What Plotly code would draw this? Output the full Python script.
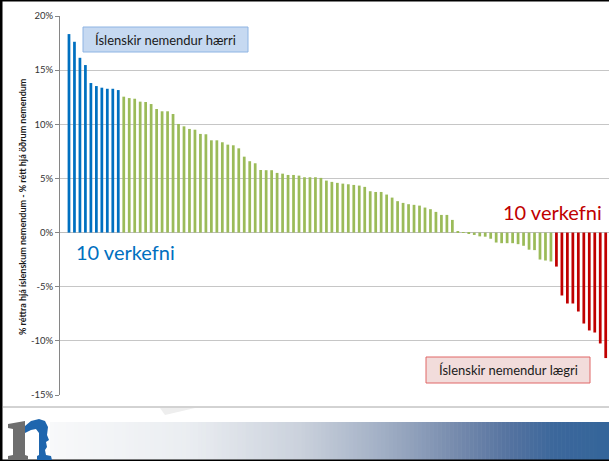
import plotly.graph_objects as go

# ---------------- data (percentage-point differences) ----------------
top10 = [18.33, 17.62, 16.14, 15.47, 13.81, 13.53, 13.38, 13.28, 13.28, 13.16]
middle = [12.55, 12.42, 12.36, 12.09, 12.06, 11.87,
          11.41, 11.20, 11.20, 10.95, 10.03, 9.81, 9.57, 9.50, 9.11, 9.08, 8.52, 8.52,
          8.34, 8.12, 8.06, 7.78, 7.01,
          6.59, 6.40, 5.78, 5.76, 5.76, 5.51, 5.44, 5.32, 5.32, 5.26, 5.11, 5.11, 5.11,
          5.05, 4.80, 4.68,
          4.59, 4.52, 4.46, 4.40, 4.34, 4.22, 3.82, 3.75, 3.75, 3.51, 3.23, 2.90, 2.74,
          2.62, 2.56, 2.49, 2.31,
          2.16, 1.91, 1.63, 1.63, 1.17,
          0.06, -0.03, -0.12, -0.22, -0.35, -0.38, -0.57, -0.92, -0.98, -0.98, -0.98,
          -1.07, -1.22, -1.58, -1.62, -2.49, -2.58, -2.67]
bottom10 = [-3.14, -5.81, -6.55, -6.55, -7.29, -8.40, -9.04, -9.23, -10.24, -11.59]

y_ticks = [-15, -10, -5, 0, 5, 10, 15, 20]
y_title = "% réttra hjá íslenskum nemendum - % rétt hjá öðrum nemendum"
label_high = "Íslenskir nemendur hærri"
label_low = "Íslenskir nemendur lægri"
label_count = "10 verkefni"

n_top, n_mid, n_bot = len(top10), len(middle), len(bottom10)
x_top = list(range(0, n_top))
x_mid = list(range(n_top, n_top + n_mid))
x_bot = list(range(n_top + n_mid, n_top + n_mid + n_bot))

BLUE = "#0070C0"
GREEN = "#9BBB59"
RED = "#C00000"
FONT = "Lato"

W, H = 609, 461
ML, MR, MT, MB = 60, 0, 16, 66
PW, PH = W - ML - MR, H - MT - MB


def X(px):
    return (px - ML) / PW


def Y(py):
    return (H - MB - py) / PH


fig = go.Figure()
for xs, ys, col in [(x_top, top10, BLUE), (x_mid, middle, GREEN), (x_bot, bottom10, RED)]:
    fig.add_trace(go.Bar(x=xs, y=ys, marker=dict(color=col, line=dict(width=0)),
                         width=0.5, showlegend=False, hoverinfo="y"))

shapes = []
# footer gradient bar
stops = [(0.0, (248, 249, 250)), (0.25, (234, 237, 241)), (0.45, (202, 209, 220)),
         (0.6, (160, 174, 196)), (0.72, (120, 140, 174)), (0.82, (85, 115, 160)),
         (0.9, (60, 103, 155)), (1.0, (52, 101, 154))]


def interp(t):
    for (t0, c0), (t1, c1) in zip(stops[:-1], stops[1:]):
        if t0 <= t <= t1:
            f = (t - t0) / (t1 - t0) if t1 > t0 else 0
            return "rgb(%d,%d,%d)" % tuple(round(a + (b - a) * f) for a, b in zip(c0, c1))
    return "rgb(52,101,154)"


gx0, gx1 = 50, 609
nstrip = 140
sw = (gx1 - gx0) / nstrip
for i in range(nstrip):
    t = (i + 0.5) / nstrip
    shapes.append(dict(type="rect", xref="paper", yref="paper",
                       x0=X(gx0 + i * sw), x1=X(gx0 + (i + 1) * sw + 0.6),
                       y0=Y(460), y1=Y(422), fillcolor=interp(t), line=dict(width=0), layer="below"))

# separator line and frame
shapes.append(dict(type="line", xref="paper", yref="paper", x0=X(3), x1=X(609), y0=Y(407), y1=Y(407),
                   line=dict(color="#A6A6A6", width=1)))
shapes.append(dict(type="rect", xref="paper", yref="paper", x0=X(0), x1=X(2.5), y0=Y(461), y1=Y(0),
                   fillcolor="black", line=dict(width=0)))
shapes.append(dict(type="rect", xref="paper", yref="paper", x0=X(0), x1=X(609), y0=Y(461), y1=Y(459.5),
                   fillcolor="black", line=dict(width=0)))
shapes.append(dict(type="rect", xref="paper", yref="paper", x0=X(0), x1=X(609), y0=Y(1.5), y1=Y(0),
                   fillcolor="black", line=dict(width=0)))
# faint watermark triangle
shapes.append(dict(type="path", xref="paper", yref="paper",
                   path="M %f,%f L %f,%f L %f,%f Z" % (X(160), Y(408), X(195), Y(408), X(165), Y(415)),
                   fillcolor="#EEEEEE", line=dict(width=0)))


def pth(points):
    s = "M " + " L ".join("%f,%f" % (X(a), Y(b)) for a, b in points) + " Z"
    return s


# logo (gray stem + blue arch)
shapes.append(dict(type="path", xref="paper", yref="paper",
                   path=pth([(8, 424), (25, 421), (25, 455), (28, 456), (28, 460), (8, 460), (8, 456),
                             (13, 455), (13, 429), (8, 428)]),
                   fillcolor="#6E6E6E", line=dict(width=0)))
shapes.append(dict(type="path", xref="paper", yref="paper",
                   path=pth([(25, 426), (31, 421), (39, 419), (45, 421), (48, 427), (47, 435), (49, 440),
                             (46, 442), (47, 447), (45, 450), (46, 455), (51, 456), (52, 460), (37, 460),
                             (37, 456), (39, 455), (39, 433), (36, 429), (31, 430), (25, 433)]),
                   fillcolor="#1F66AE", line=dict(width=0)))

# annotation boxes
shapes.append(dict(type="rect", xref="paper", yref="paper", x0=X(83), x1=X(248), y0=Y(52), y1=Y(27),
                   fillcolor="#C6D9F1", line=dict(color="#8EB4E3", width=1)))
shapes.append(dict(type="rect", xref="paper", yref="paper", x0=X(426), x1=X(590), y0=Y(383), y1=Y(357),
                   fillcolor="#F2DCDB", line=dict(color="#E06666", width=1)))

annotations = [
    dict(text=label_high, xref="paper", yref="paper", x=X(165.5), y=Y(39.5), showarrow=False,
         font=dict(family=FONT, size=13, color="#1a1a1a"), xanchor="center", yanchor="middle"),
    dict(text=label_low, xref="paper", yref="paper", x=X(508), y=Y(370), showarrow=False,
         font=dict(family=FONT, size=13, color="#1a1a1a"), xanchor="center", yanchor="middle"),
    dict(text=label_count, xref="paper", yref="paper", x=X(125), y=Y(252), showarrow=False,
         font=dict(family=FONT, size=20, color=BLUE), xanchor="center", yanchor="middle"),
    dict(text=label_count, xref="paper", yref="paper", x=X(552), y=Y(212), showarrow=False,
         font=dict(family=FONT, size=20, color=RED), xanchor="center", yanchor="middle"),
    dict(text="<b>" + y_title + "</b>", xref="paper", yref="paper", x=X(22), y=Y(207), showarrow=False,
         textangle=-90, font=dict(family=FONT, size=9, color="#1a1a1a"), xanchor="center", yanchor="middle"),
]

fig.update_layout(
    width=W, height=H,
    margin=dict(l=ML, r=MR, t=MT, b=MB),
    paper_bgcolor="white", plot_bgcolor="white",
    bargap=0.5,
    shapes=shapes, annotations=annotations,
    xaxis=dict(range=[-1.64, 98.6], showticklabels=False, showgrid=False, zeroline=False,
               showline=False, ticks=""),
    yaxis=dict(range=[-15, 20], tickvals=y_ticks, ticktext=["%d%%" % v for v in y_ticks],
               showgrid=True, gridcolor="#C6C6C6", gridwidth=1,
               zeroline=True, zerolinecolor="#BDBDBD", zerolinewidth=1,
               showline=True, linecolor="#868686", linewidth=1,
               ticks="outside", ticklen=4, tickcolor="#868686",
               tickfont=dict(family=FONT, size=9.5, color="#333333")),
    font=dict(family=FONT),
)

fig.write_html("out.html", config={"displayModeBar": False},
               post_script="document.body.style.margin='0';")
